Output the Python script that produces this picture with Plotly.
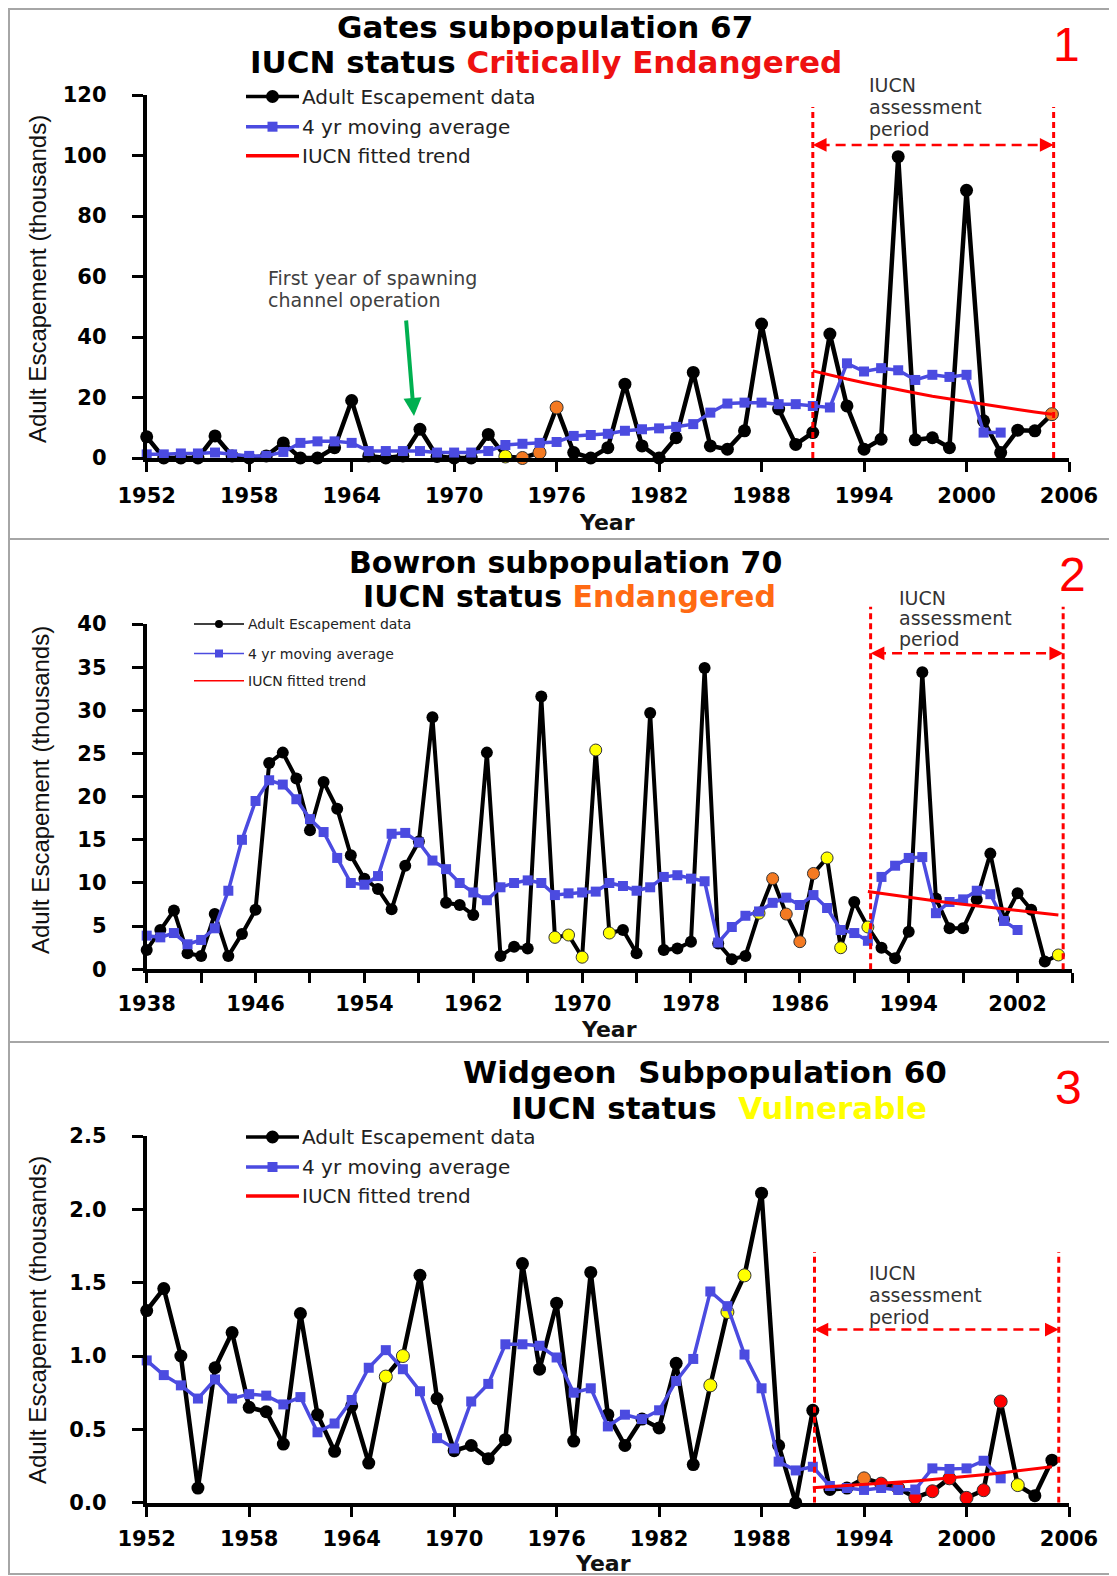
import plotly.graph_objects as go

# page pixel = figure pixel + 8 (default body margin of the html page)
OFF = 8
W, H = 1117 - OFF, 1576 - OFF


def px(x):
    return (x - OFF) / W


def py(y):
    return 1 - (y - OFF) / H


# ---------------- DATA ----------------
gates_years = list(range(1952, 2006))
gates_escapement = [7, 0, 0, 0, 7.3, 0.7, 0, 0.7, 5, 0,
                    0, 3.4, 19, 0.7, 0, 0.7, 9.5, 0.5, 0, 0,
                    7.8, 0.5, 0, 1.8, 16.7, 1.8, 0, 3.4, 24.4, 4,
                    0, 6.7, 28.3, 4, 2.9, 9, 44.3, 16.2, 4.5, 8.4,
                    41, 17.2, 2.9, 6.2, 99.6, 6, 6.7, 3.4, 88.5, 12.3,
                    1.8, 9.2, 9, 14.5]
gates_ma_years = list(range(1952, 2003))
gates_ma = [1.2, 1.2, 1.5, 1.5, 1.8, 1.2, 0.7, 0.7, 2, 5,
            5.5, 5.5, 5, 2.3, 2.3, 2.3, 2.3, 1.8, 1.8, 1.8,
            2.3, 4.3, 4.7, 5, 5.3, 7.3, 7.6, 8.0, 9, 9.5,
            9.8, 10.3, 11.2, 15, 18, 18.3, 18.3, 17.8, 17.8, 17.2,
            16.7, 31.3, 28.6, 29.7, 29, 25.8, 27.5, 26.8, 27.5, 8.4,
            8.4]
gates_trend_years = list(range(1991, 2006))
gates_trend = [28.8, 27.4, 26.1, 24.9, 23.7, 22.5, 21.5, 20.4, 19.5, 18.5,
               17.6, 16.8, 16.0, 15.2, 14.5]
gates_yellow = [1973]
gates_orange = [1974, 1975, 1976, 2005]
gates_red = []

bowron_years = list(range(1938, 2006))
bowron_escapement = [2.24, 4.55, 6.8, 1.85, 1.55, 6.4, 1.55, 4.1, 6.9, 23.9,
                     25.1, 22.1, 16.1, 21.7, 18.6, 13.2, 10.5, 9.3, 6.95, 12,
                     14.8, 29.2, 7.7, 7.45, 6.3, 25.1, 1.55, 2.6, 2.4, 31.6,
                     3.7, 3.97, 1.4, 25.4, 4.2, 4.55, 1.85, 29.7, 2.24, 2.4,
                     3.2, 34.9, 3.0, 1.16, 1.55, 6.5, 10.5, 6.4, 3.2, 11.1,
                     12.9, 2.5, 7.8, 4.9, 2.5, 1.27, 4.36, 34.4, 8.2, 4.75,
                     4.75, 8.1, 13.4, 5.8, 8.8, 6.9, 0.9, 1.66]
bowron_ma_years = list(range(1938, 2003))
bowron_ma = [3.9, 3.7, 4.2, 2.9, 3.4, 4.75, 9.1, 15, 19.5, 21.9,
             21.4, 19.7, 17.4, 15.9, 12.9, 10, 9.8, 10.8, 15.7, 15.8,
             14.7, 12.6, 11.6, 10, 8.9, 8.0, 9.5, 10, 10.3, 10,
             8.6, 8.8, 8.9, 9, 10, 9.65, 9.1, 9.5, 10.7, 10.9,
             10.5, 10.2, 3.1, 4.9, 6.2, 6.7, 7.7, 8.3, 7.45, 8.6,
             7.1, 4.55, 4.2, 3.3, 10.7, 12, 12.9, 13, 6.5, 7.8,
             8.1, 9.1, 8.7, 5.6, 4.55]
bowron_trend_years = list(range(1991, 2006))
bowron_trend = [9.0, 8.77, 8.55, 8.34, 8.13, 7.92, 7.72, 7.53, 7.34, 7.15,
                6.97, 6.80, 6.63, 6.46, 6.3]
bowron_yellow = [1968, 1969, 1970, 1971, 1972, 1983, 1988, 1989, 1991, 2005]
bowron_orange = [1984, 1985, 1986, 1987]
bowron_red = []

widgeon_years = list(range(1952, 2006))
widgeon_escapement = [1.31, 1.46, 1.0, 0.1, 0.92, 1.16, 0.65, 0.62, 0.4, 1.29,
                      0.6, 0.35, 0.66, 0.27, 0.86, 1.0, 1.55, 0.71, 0.355, 0.39,
                      0.30, 0.43, 1.63, 0.91, 1.36, 0.42, 1.57, 0.6, 0.39, 0.57,
                      0.51, 0.95, 0.26, 0.8, 1.30, 1.55, 2.11, 0.39, 0.0, 0.63,
                      0.09, 0.1, 0.166, 0.13, 0.1, 0.035, 0.078, 0.166, 0.033, 0.085,
                      0.69, 0.12, 0.048, 0.29]
widgeon_ma_years = list(range(1952, 2003))
widgeon_ma = [0.97, 0.87, 0.8, 0.71, 0.84, 0.71, 0.74, 0.73, 0.67, 0.72,
              0.48, 0.54, 0.70, 0.92, 1.04, 0.91, 0.76, 0.44, 0.37, 0.69,
              0.81, 1.08, 1.08, 1.07, 0.99, 0.75, 0.78, 0.52, 0.6, 0.57,
              0.63, 0.83, 0.98, 1.44, 1.34, 1.01, 0.78, 0.28, 0.22, 0.245,
              0.114, 0.10, 0.087, 0.10, 0.087, 0.09, 0.234, 0.23, 0.234, 0.286,
              0.166]
widgeon_trend_years = list(range(1991, 2006))
widgeon_trend = [0.102, 0.109, 0.116, 0.123, 0.131, 0.139, 0.148, 0.158, 0.168, 0.179,
                 0.191, 0.203, 0.216, 0.230, 0.245]
widgeon_yellow = [1966, 1967, 1985, 1986, 1987, 2003]
widgeon_orange = [1994]
widgeon_red = [1995, 1996, 1997, 1998, 1999, 2000, 2001, 2002]

legend_labels = ["Adult Escapement data", "4 yr moving average", "IUCN fitted trend"]
y_title = "Adult Escapement (thousands)"

# ---------------- STYLE ----------------
BLUE = "#4B4BE0"
YEL = "#FFFF00"
ORA = "#F47A22"
RED = "#FF0000"
TICKFONT = dict(family="DejaVu Sans", size=21, color="black", weight="bold")

fig = go.Figure()

panels = [
    dict(xa="x", ya="y", years=gates_years, esc=gates_escapement,
         may=gates_ma_years, ma=gates_ma, ty=gates_trend_years, tr=gates_trend,
         yel=gates_yellow, ora=gates_orange, red=gates_red, msize=13, lw=4.5,
         bsize=10, blw=3.5),
    dict(xa="x2", ya="y2", years=bowron_years, esc=bowron_escapement,
         may=bowron_ma_years, ma=bowron_ma, ty=bowron_trend_years, tr=bowron_trend,
         yel=bowron_yellow, ora=bowron_orange, red=bowron_red, msize=12, lw=4,
         bsize=10, blw=3.5),
    dict(xa="x3", ya="y3", years=widgeon_years, esc=widgeon_escapement,
         may=widgeon_ma_years, ma=widgeon_ma, ty=widgeon_trend_years, tr=widgeon_trend,
         yel=widgeon_yellow, ora=widgeon_orange, red=widgeon_red, msize=13, lw=4.5,
         bsize=10, blw=3.5),
]

for p in panels:
    cols, lcols, lws = [], [], []
    for yr in p["years"]:
        if yr in p["yel"]:
            cols.append(YEL); lcols.append("#333333"); lws.append(1)
        elif yr in p["ora"]:
            cols.append(ORA); lcols.append("#333333"); lws.append(1)
        elif yr in p["red"]:
            cols.append(RED); lcols.append("#333333"); lws.append(1)
        else:
            cols.append("black"); lcols.append("black"); lws.append(0)
    fig.add_trace(go.Scatter(
        x=p["years"], y=p["esc"], mode="lines+markers", xaxis=p["xa"], yaxis=p["ya"],
        line=dict(color="black", width=p["lw"]),
        marker=dict(size=p["msize"], color=cols, line=dict(color=lcols, width=lws)),
        cliponaxis=False, name=legend_labels[0]))
    fig.add_trace(go.Scatter(
        x=p["may"], y=p["ma"], mode="lines+markers", xaxis=p["xa"], yaxis=p["ya"],
        line=dict(color=BLUE, width=p["blw"]),
        marker=dict(size=p["bsize"], symbol="square", color=BLUE),
        cliponaxis=False, name=legend_labels[1]))
    fig.add_trace(go.Scatter(
        x=p["ty"], y=p["tr"], mode="lines", xaxis=p["xa"], yaxis=p["ya"],
        line=dict(color=RED, width=3), cliponaxis=False, name=legend_labels[2]))


def xax(dom, rng, tick0, dtick, standoff, minor=None):
    d = dict(domain=dom, range=rng, tick0=tick0, dtick=dtick, showline=True,
             linewidth=4, linecolor="black", ticks="outside", ticklen=10,
             tickwidth=3, tickcolor="black", showgrid=False, zeroline=False,
             tickfont=TICKFONT, ticklabelstandoff=standoff, automargin=False)
    if minor:
        d["minor"] = minor
    return d


def yax(dom, rng, dtick, anchor, fmt=None):
    d = dict(domain=dom, range=rng, tick0=0, dtick=dtick, showline=True,
             linewidth=4, linecolor="black", ticks="outside", ticklen=11,
             tickwidth=3, tickcolor="black", showgrid=False, zeroline=False,
             tickfont=TICKFONT, ticklabelstandoff=21, anchor=anchor, automargin=False)
    if fmt:
        d["tickformat"] = fmt
    return d


XL = px(146.7)
fig.update_layout(
    template="none",
    width=W, height=H, margin=dict(l=0, r=0, t=0, b=0, pad=0, autoexpand=False),
    paper_bgcolor="white", plot_bgcolor="white", showlegend=False,
    xaxis=dict(xax([XL, px(1069)], [1952, 2006], 1952, 6, 6), anchor="y"),
    yaxis=yax([py(458), py(95)], [0, 120], 20, "x"),
    xaxis2=dict(xax([XL, px(1072)], [1938, 2006], 1938, 8, 2,
                    minor=dict(dtick=4, tick0=1938, ticks="outside", ticklen=10,
                               tickwidth=3, tickcolor="black")), anchor="y2"),
    yaxis2=yax([py(969.3), py(624)], [0, 40], 5, "x2"),
    xaxis3=dict(xax([XL, px(1069)], [1952, 2006], 1952, 6, 4), anchor="y3"),
    yaxis3=yax([py(1502.7), py(1136)], [0, 2.5], 0.5, "x3", fmt=".1f"),
)

shapes = []
annots = []

# panel frames
for (y0, y1) in [(9, 539), (539, 1042), (1042, 1574)]:
    shapes.append(dict(type="rect", xref="paper", yref="paper",
                       x0=px(9), x1=px(1114), y0=py(y1), y1=py(y0),
                       line=dict(color="#A6A6A6", width=2), layer="below"))

# IUCN assessment period markers
periods = [
    dict(xr="x", yr="y", xa=1991.0, xb=2005.1, ytop=116, yarr=103.5,
         txt_x=867, txt_y=[84.5, 106.6, 128.7]),
    dict(xr="x2", yr="y2", xa=1991.2, xb=2005.35, ytop=42, yarr=36.6,
         txt_x=897, txt_y=[598, 618, 639]),
    dict(xr="x3", yr="y3", xa=1991.1, xb=2005.4, ytop=1.71, yarr=1.18,
         txt_x=867, txt_y=[1273, 1295, 1317]),
]
for pr in periods:
    for xv in (pr["xa"], pr["xb"]):
        shapes.append(dict(type="line", xref=pr["xr"], yref=pr["yr"] if pr["yr"] != "y2" else "y2 domain",
                           x0=xv, x1=xv, y0=0,
                           y1=pr["ytop"] if pr["yr"] != "y2" else 42 / 40,
                           line=dict(color=RED, width=3, dash="6px,4px")))
    shapes.append(dict(type="line", xref=pr["xr"], yref=pr["yr"],
                       x0=pr["xa"] + 0.4, x1=pr["xb"] - 0.4, y0=pr["yarr"], y1=pr["yarr"],
                       line=dict(color=RED, width=2.5, dash="10px,6px")))
    annots.append(dict(x=pr["xb"], y=pr["yarr"], xref=pr["xr"], yref=pr["yr"], text="",
                       showarrow=True, ax=-14, ay=0, arrowhead=2, arrowsize=1.1,
                       arrowwidth=2.5, arrowcolor=RED))
    annots.append(dict(x=pr["xa"], y=pr["yarr"], xref=pr["xr"], yref=pr["yr"], text="",
                       showarrow=True, ax=14, ay=0, arrowhead=2, arrowsize=1.1,
                       arrowwidth=2.5, arrowcolor=RED))
    for t, yy in zip(["IUCN", "assessment", "period"], pr["txt_y"]):
        annots.append(dict(x=px(pr["txt_x"]), y=py(yy), xref="paper", yref="paper",
                           text=t, showarrow=False, xanchor="left", yanchor="middle",
                           font=dict(family="DejaVu Sans", size=19, color="#333333")))

# legends (drawn manually)
legends = [
    dict(x0=246, x1=299, ys=[96.5, 126.7, 155.8], tx=300, fs=20, lw=3.5, mr=6.5, sq=5),
    dict(x0=194, x1=244, ys=[624, 653.5, 680.7], tx=246, fs=14, lw=1.5, mr=4, sq=4),
    dict(x0=246, x1=299, ys=[1137, 1167, 1196], tx=300, fs=20, lw=3.5, mr=6.5, sq=5),
]
for lg in legends:
    cx = (lg["x0"] + lg["x1"]) / 2
    colors = ["black", BLUE, RED]
    for i, (lab, yy) in enumerate(zip(legend_labels, lg["ys"])):
        shapes.append(dict(type="line", xref="paper", yref="paper",
                           x0=px(lg["x0"]), x1=px(lg["x1"]), y0=py(yy), y1=py(yy),
                           line=dict(color=colors[i], width=lg["lw"])))
        if i == 0:
            r = lg["mr"]
            shapes.append(dict(type="circle", xref="paper", yref="paper",
                               x0=px(cx - r), x1=px(cx + r), y0=py(yy + r), y1=py(yy - r),
                               fillcolor="black", line=dict(width=0)))
        elif i == 1:
            s = lg["sq"]
            shapes.append(dict(type="rect", xref="paper", yref="paper",
                               x0=px(cx - s), x1=px(cx + s), y0=py(yy + s), y1=py(yy - s),
                               fillcolor=BLUE, line=dict(width=0)))
        annots.append(dict(x=px(lg["tx"]), y=py(yy), xref="paper", yref="paper",
                           text=lab, showarrow=False, xanchor="left", yanchor="middle",
                           font=dict(family="DejaVu Sans", size=lg["fs"], color="#222222")))

# titles
titles = [
    (545, 27, "Gates subpopulation 67", 31),
    (546, 62.5, "IUCN status <span style='color:#EE1111'>Critically Endangered</span>", 31),
    (565, 562, "Bowron subpopulation 70", 30),
    (569, 596, "IUCN status <span style='color:#FF6A13'>Endangered</span>", 30),
    (705, 1072, "Widgeon  Subpopulation 60", 31),
    (719, 1108, "IUCN status  <span style='color:#FFFF00'>Vulnerable</span>", 31),
]
for x, y, t, s in titles:
    annots.append(dict(x=px(x), y=py(y), xref="paper", yref="paper", text=t,
                       showarrow=False, xanchor="center", yanchor="middle",
                       font=dict(family="DejaVu Sans", size=s, color="black", weight="bold")))

# panel numbers
for x, y, t in [(1066, 44, "1"), (1072, 575, "2"), (1068, 1087, "3")]:
    annots.append(dict(x=px(x), y=py(y), xref="paper", yref="paper", text=t,
                       showarrow=False, xanchor="center", yanchor="middle",
                       font=dict(family="Liberation Sans", size=48, color=RED)))

# axis titles
for x, y in [(607, 523), (609, 1029), (603, 1563)]:
    annots.append(dict(x=px(x), y=py(y), xref="paper", yref="paper", text="Year",
                       showarrow=False, xanchor="center", yanchor="middle",
                       font=dict(family="DejaVu Sans", size=22, color="#111111", weight="bold")))
for x, y in [(37, 279), (40, 790), (37, 1320)]:
    annots.append(dict(x=px(x), y=py(y), xref="paper", yref="paper", text=y_title,
                       showarrow=False, textangle=-90, xanchor="center", yanchor="middle",
                       font=dict(family="Liberation Sans", size=24, color="#111111")))

# spawning channel note
for t, yy in [("First year of spawning", 278.5), ("channel operation", 299.6)]:
    annots.append(dict(x=px(266), y=py(yy), xref="paper", yref="paper", text=t,
                       showarrow=False, xanchor="left", yanchor="middle",
                       font=dict(family="DejaVu Sans", size=19, color="#404040")))
annots.append(dict(x=px(414), y=py(416), xref="paper", yref="paper", text="",
                   showarrow=True, ax=-8, ay=-97, arrowhead=2, arrowsize=0.9,
                   arrowwidth=4, arrowcolor="#00B050"))

fig.update_layout(shapes=shapes, annotations=annots)
fig.write_html("out.html")
